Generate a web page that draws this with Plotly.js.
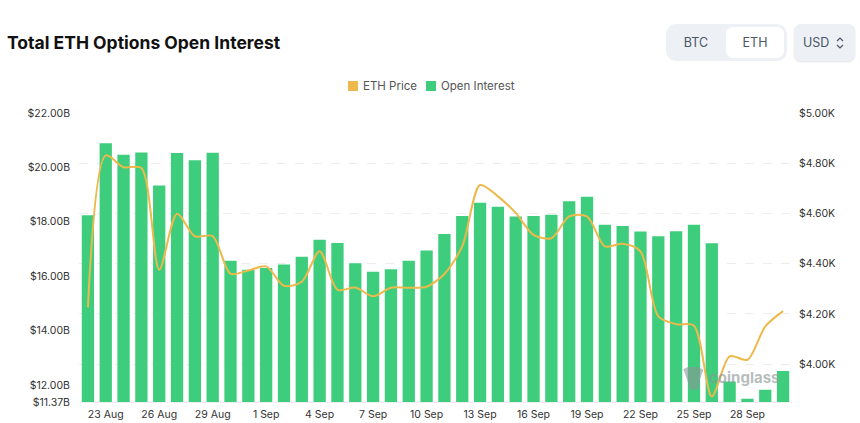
<!DOCTYPE html>
<html><head><meta charset="utf-8">
<script src="https://cdn.plot.ly/plotly-3.0.1.min.js"></script>
<style>
html,body{margin:0;padding:0;background:#fff;width:860px;height:423px;overflow:hidden;font-family:Inter,sans-serif}
#chart{position:absolute;left:0;top:0;width:860px;height:423px}
.ui{position:absolute;box-sizing:border-box;color:#4a5568;font-size:12.5px;display:flex;align-items:center;justify-content:center}
.leg{position:absolute;font-size:11.5px;color:#555;line-height:14px;white-space:nowrap}
.sw{position:absolute;width:10px;height:10px}
</style></head><body>
<div id="chart"></div>
<div class="ui" style="left:666px;top:24px;width:121px;height:37px;background:#edf0f4;border-radius:10px"></div>
<div class="ui" style="left:726px;top:27px;width:58px;height:31px;background:#fff;border-radius:7px"></div>
<div class="ui" style="left:666px;top:24px;width:60px;height:37px">BTC</div>
<div class="ui" style="left:726px;top:24px;width:58px;height:37px">ETH</div>
<div class="ui" style="left:794px;top:24px;width:61px;height:37px;background:#edf0f4;border-radius:7px;box-shadow:0 1px 2px rgba(0,0,0,.12);justify-content:flex-start;padding-left:9px">USD
<svg width="10" height="16" style="margin-left:6px" viewBox="0 0 10 16"><path d="M2 6 L5 3 L8 6 M2 10 L5 13 L8 10" fill="none" stroke="#4a5568" stroke-width="1.2"/></svg></div>
<div class="sw" style="left:348px;top:81px;background:#edb84c"></div>
<div class="leg" style="left:363px;top:79px">ETH Price</div>
<div class="sw" style="left:426px;top:81px;background:#3ecd7d"></div>
<div class="leg" style="left:441px;top:79px">Open Interest</div>
<script>
const dates = ["22 Aug","23 Aug","24 Aug","25 Aug","26 Aug","27 Aug","28 Aug","29 Aug","30 Aug","31 Aug",
"1 Sep","2 Sep","3 Sep","4 Sep","5 Sep","6 Sep","7 Sep","8 Sep","9 Sep","10 Sep",
"11 Sep","12 Sep","13 Sep","14 Sep","15 Sep","16 Sep","17 Sep","18 Sep","19 Sep","20 Sep",
"21 Sep","22 Sep","23 Sep","24 Sep","25 Sep","26 Sep","27 Sep","28 Sep","29 Sep","30 Sep"];
const openInterest = [18.24,20.89,20.46,20.55,19.33,20.53,20.26,20.54,16.57,16.23,
16.30,16.43,16.71,17.34,17.22,16.47,16.16,16.25,16.57,16.94,
17.55,18.21,18.70,18.55,18.19,18.21,18.26,18.75,18.92,17.89,
17.84,17.64,17.47,17.65,17.89,17.21,12.12,11.49,11.82,12.51];
const ethPrice = [4.226,4.831,4.784,4.781,4.376,4.599,4.509,4.510,4.360,4.373,
4.389,4.312,4.328,4.449,4.296,4.305,4.270,4.304,4.304,4.308,
4.359,4.469,4.713,4.668,4.602,4.515,4.501,4.588,4.588,4.469,
4.479,4.449,4.190,4.159,4.153,3.871,4.031,4.017,4.150,4.211];
const xTicks = ["23 Aug","26 Aug","29 Aug","1 Sep","4 Sep","7 Sep","10 Sep","13 Sep","16 Sep","19 Sep","22 Sep","25 Sep","28 Sep"];
const leftTicks = [11.37,12,14,16,18,20,22];
const leftLabels = ["$11.37B","$12.00B","$14.00B","$16.00B","$18.00B","$20.00B","$22.00B"];
const rightTicks = [4.0,4.2,4.4,4.6,4.8,5.0];
const rightLabels = ["$4.00K","$4.20K","$4.40K","$4.60K","$4.80K","$5.00K"];
const W=860,H=423,L=79.4,R=68.4,T=113.3,B=21;
const px=(x,y)=>((x-L)/(W-L-R)).toFixed(4)+","+(1-(y-T)/(H-T-B)).toFixed(4);
const tickFont={family:"Inter, sans-serif",size:10.5,color:"#333"};
Plotly.newPlot("chart",[
 {type:"bar",name:"Open Interest",x:dates,y:openInterest,marker:{color:"#3ecd7d"},yaxis:"y"},
 {type:"scatter",mode:"lines",name:"ETH Price",x:dates,y:ethPrice,yaxis:"y2",line:{color:"#edb84c",width:2,shape:"spline",smoothing:0.8}}
],{
 width:W,height:H,margin:{l:L,r:R,t:T,b:B,pad:0},paper_bgcolor:"#fff",plot_bgcolor:"#fff",
 showlegend:false,bargap:0.31,hovermode:false,
 title:{text:"<b>Total ETH Options Open Interest</b>",x:7/W,xanchor:"left",y:1-43/H,yanchor:"middle",font:{family:"Inter, sans-serif",size:17.5,color:"#111"}},
 xaxis:{type:"category",categoryorder:"array",categoryarray:dates,tickmode:"array",tickvals:xTicks,ticktext:xTicks,ticks:"",tickfont:tickFont,showgrid:false,zeroline:false,showline:true,linecolor:"#eceef0",linewidth:1,ticklabelstandoff:2},
 yaxis:{range:[11.37,22],tickmode:"array",tickvals:leftTicks,ticktext:leftLabels,showgrid:false,zeroline:false,ticks:"",tickfont:tickFont,ticklabelstandoff:8},
 yaxis2:{overlaying:"y",side:"right",range:[3.849,5.0],tickmode:"array",tickvals:rightTicks,ticktext:rightLabels,showgrid:true,gridcolor:"#ededed",griddash:"dash",gridwidth:1,zeroline:false,ticks:"",tickfont:tickFont,ticklabelstandoff:6},
 annotations:[{xref:"paper",yref:"paper",x:(707-L)/(W-L-R),y:1-(378-T)/(H-T-B),xanchor:"left",yanchor:"middle",showarrow:false,text:"<b>coinglass</b>",font:{family:"Inter, sans-serif",size:15,color:"rgba(140,150,150,0.65)"}}],
 shapes:[{type:"path",xref:"paper",yref:"paper",layer:"above",fillcolor:"rgba(140,150,150,0.6)",line:{width:0},
  path:"M"+px(683,369)+" L"+px(688,367)+" L"+px(698,367)+" L"+px(703,370)+" L"+px(700,378)+" L"+px(698,389)+" L"+px(690,390)+" L"+px(687,380)+" Z"}]
},{displayModeBar:false,staticPlot:true});
</script>
</body></html>
